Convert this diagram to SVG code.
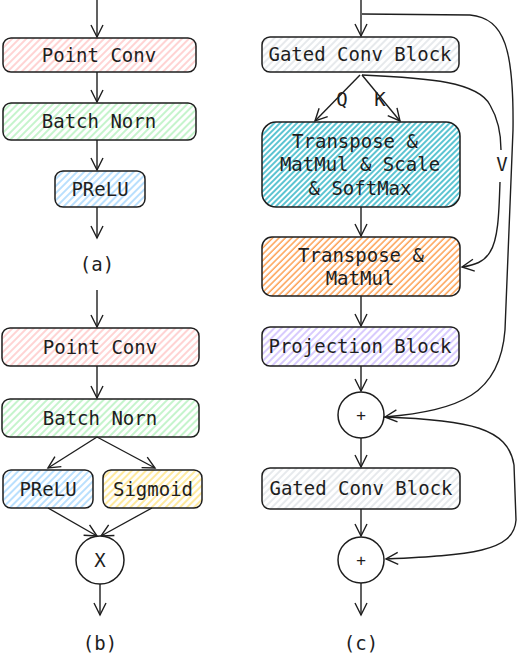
<svg xmlns="http://www.w3.org/2000/svg" width="518" height="656" viewBox="0 0 518 656">
<defs>
<pattern id="hRed" patternUnits="userSpaceOnUse" width="5" height="5" patternTransform="rotate(-45)"><line x1="0" y1="1" x2="5" y2="1" stroke="#ffa8a8" stroke-width="1"/></pattern>
<pattern id="hGreen" patternUnits="userSpaceOnUse" width="5" height="5" patternTransform="rotate(-45)"><line x1="0" y1="1" x2="5" y2="1" stroke="#8ce99a" stroke-width="1"/></pattern>
<pattern id="hBlue" patternUnits="userSpaceOnUse" width="5" height="5" patternTransform="rotate(-45)"><line x1="0" y1="1" x2="5" y2="1" stroke="#74c0fc" stroke-width="1"/></pattern>
<pattern id="hYellow" patternUnits="userSpaceOnUse" width="5" height="5" patternTransform="rotate(-45)"><line x1="0" y1="1" x2="5" y2="1" stroke="#ffd43b" stroke-width="1"/></pattern>
<pattern id="hGray" patternUnits="userSpaceOnUse" width="5" height="5" patternTransform="rotate(-45)"><line x1="0" y1="1" x2="5" y2="1" stroke="#ced4da" stroke-width="1"/></pattern>
<pattern id="hTeal" patternUnits="userSpaceOnUse" width="4" height="4" patternTransform="rotate(-45)"><line x1="0" y1="1" x2="4" y2="1" stroke="#15aabf" stroke-width="1.4"/></pattern>
<pattern id="hOrange" patternUnits="userSpaceOnUse" width="4.5" height="4.5" patternTransform="rotate(-45)"><line x1="0" y1="1" x2="4.5" y2="1" stroke="#fd7e14" stroke-width="1.1"/></pattern>
<pattern id="hPurple" patternUnits="userSpaceOnUse" width="5" height="5" patternTransform="rotate(-45)"><line x1="0" y1="1" x2="5" y2="1" stroke="#b197fc" stroke-width="1"/></pattern>
<marker id="arr" markerUnits="userSpaceOnUse" markerWidth="16" markerHeight="16" viewBox="-13 -8 16 16" refX="0" refY="0" orient="auto">
<path d="M -12 -6 L 0 0 L -12 6" fill="none" stroke="#1e1e1e" stroke-width="1.4"/>
</marker>
<style>
.box{stroke:#1e1e1e;stroke-width:1.5}
.t{font-family:"DejaVu Sans Mono","Liberation Mono",monospace;font-size:19px;fill:#1e1e1e;text-anchor:middle}
.c{fill:none;stroke:#1e1e1e;stroke-width:1.4;marker-end:url(#arr)}
.ln{fill:none;stroke:#1e1e1e;stroke-width:1.4}
.circ{fill:#fff;stroke:#1e1e1e;stroke-width:1.5}
</style>
</defs>

<g id="connectors">
<!-- (a) -->
<path class="c" d="M 97 0 L 97 37"/>
<path class="c" d="M 97 72 L 97 102"/>
<path class="c" d="M 97 140 L 97 170"/>
<path class="c" d="M 97 207 L 97 238"/>
<!-- (b) -->
<path class="c" d="M 97 290 L 97 327"/>
<path class="c" d="M 97 366 L 97 398"/>
<path class="c" d="M 97 437 L 48 468"/>
<path class="c" d="M 97 437 L 155 468"/>
<path class="c" d="M 48 508 L 97 536"/>
<path class="c" d="M 152 508 L 101 536"/>
<path class="c" d="M 100 584 L 100 615"/>
<!-- (c) -->
<path class="c" d="M 361 0 L 361 36"/>
<path class="c" d="M 360 75 L 315 121"/>
<path class="c" d="M 362 75 L 400 121"/>
<path class="c" d="M 361 207 L 361 236"/>
<path class="c" d="M 361 296 L 361 326"/>
<path class="c" d="M 361 366 L 361 391"/>
<path class="c" d="M 361 438 L 361 467"/>
<path class="c" d="M 361 509 L 361 536"/>
<path class="c" d="M 361 583 L 361 615"/>
<path class="c" d="M 362 14 L 470 15 C 505 18 514 50 513 130 L 505 330 C 500 395 460 410 385 417"/>
<path class="ln" d="M 362 75 C 430 78 478 82 490 105 C 500 122 501 140 501 150"/>
<path class="c" d="M 500 182 C 499 215 498 240 490 252 C 484 262 475 265 462 267"/>
<path class="c" d="M 384 417 C 470 420 508 428 514 465 L 516 520 C 514 552 470 555 386 559"/>
</g>

<g id="node-a-pointconv"><rect class="box" x="3" y="38" width="193" height="34" rx="8" fill="url(#hRed)"/><text class="t" x="99" y="61.5">Point Conv</text></g>
<g id="node-a-batchnorm"><rect class="box" x="3" y="103" width="193" height="37" rx="8" fill="url(#hGreen)"/><text class="t" x="99" y="128">Batch Norn</text></g>
<g id="node-a-prelu"><rect class="box" x="55" y="171" width="90" height="36" rx="8" fill="url(#hBlue)"/><text class="t" x="100" y="195.5">PReLU</text></g>
<text class="t" x="97" y="271">(a)</text>

<g id="node-b-pointconv"><rect class="box" x="2" y="328" width="197" height="38" rx="8" fill="url(#hRed)"/><text class="t" x="100" y="353.5">Point Conv</text></g>
<g id="node-b-batchnorm"><rect class="box" x="2" y="399" width="197" height="38" rx="8" fill="url(#hGreen)"/><text class="t" x="100" y="424.5">Batch Norn</text></g>
<g id="node-b-prelu"><rect class="box" x="3" y="470" width="90" height="38" rx="8" fill="url(#hBlue)"/><text class="t" x="48" y="495.5">PReLU</text></g>
<g id="node-b-sigmoid"><rect class="box" x="103" y="470" width="99" height="38" rx="8" fill="url(#hYellow)"/><text class="t" x="153" y="495.5">Sigmoid</text></g>
<g id="node-b-mul"><circle class="circ" cx="100" cy="560" r="24"/><text class="t" x="100" y="567">X</text></g>
<text class="t" x="100" y="650">(b)</text>

<g id="node-c-gated1"><rect class="box" x="262" y="37" width="197" height="35" rx="8" fill="url(#hGray)"/><text class="t" x="360" y="61">Gated Conv Block</text></g>
<text class="t" x="342" y="106">Q</text>
<text class="t" x="380" y="106">K</text>
<text class="t" x="502" y="171">V</text>
<g id="node-c-softmax"><rect class="box" x="262" y="122" width="198" height="85" rx="14" fill="url(#hTeal)"/><text class="t" x="355" y="148">Transpose &amp;</text><text class="t" x="360" y="171">MatMul &amp; Scale</text><text class="t" x="360" y="194.5">&amp; SoftMax</text></g>
<g id="node-c-matmul"><rect class="box" x="262" y="237" width="198" height="59" rx="10" fill="url(#hOrange)"/><text class="t" x="361" y="262">Transpose &amp;</text><text class="t" x="360" y="285">MatMul</text></g>
<g id="node-c-projection"><rect class="box" x="262" y="327" width="197" height="39" rx="8" fill="url(#hPurple)"/><text class="t" x="360" y="353">Projection Block</text></g>
<g id="node-c-add1"><circle class="circ" cx="361" cy="415" r="23"/><text class="t" x="361" y="421" style="font-size:16px">+</text></g>
<g id="node-c-gated2"><rect class="box" x="262" y="468" width="198" height="41" rx="8" fill="url(#hGray)"/><text class="t" x="361" y="495">Gated Conv Block</text></g>
<g id="node-c-add2"><circle class="circ" cx="361" cy="560" r="23"/><text class="t" x="361" y="566" style="font-size:16px">+</text></g>
<text class="t" x="361" y="650">(c)</text>
</svg>
